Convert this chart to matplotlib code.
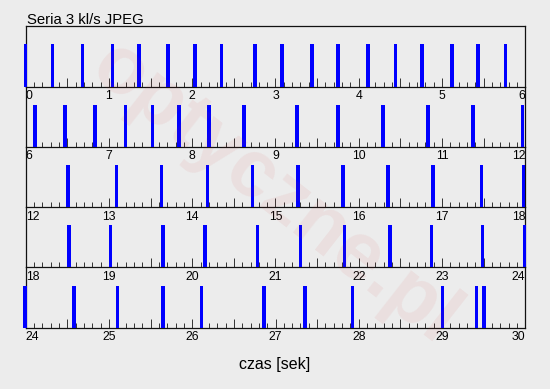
#!/usr/bin/env python3
"""Frame timing strip chart: burst of 3 fps JPEG, 6 seconds per row."""

import matplotlib
matplotlib.use("Agg")
import matplotlib.pyplot as plt
from matplotlib.ticker import MultipleLocator

# ---------------------------------------------------------------------------
# Data — frame timestamps in seconds
# ---------------------------------------------------------------------------

TITLE = "Seria 3 kl/s JPEG"
XLABEL = "czas [sek]"

ROW_STARTS = [0, 6, 12, 18, 24]
ROW_SPAN = 6

FRAME_TIMES = [
    0.0, 0.325, 0.685, 1.045, 1.36, 1.71, 2.035, 2.355, 2.755, 3.077,
    3.437, 3.75, 4.11, 4.44, 4.76, 5.12, 5.43, 5.76,
    6.112, 6.472, 6.833, 7.2, 7.526, 7.84, 8.2, 8.62, 9.257, 9.75,
    10.29, 10.83, 11.37, 11.964,
    12.508, 13.09, 13.63, 14.18, 14.72, 15.27, 15.81, 16.35, 16.89,
    17.47, 17.975,
    18.52, 19.02, 19.65, 20.155, 20.78, 21.3, 21.83, 22.375, 22.87,
    23.49, 23.99,
    24.58, 25.105, 25.65, 26.11, 26.86, 27.354, 27.927, 29.008, 29.416,
    29.504,
]

# ---------------------------------------------------------------------------
# Style
# ---------------------------------------------------------------------------

BG = "#ececec"
BAR_COLOR = "#0000ff"
BAR_WIDTH = 0.04      # seconds
EDGE = 0.02           # bars this close past a row edge still show in that row

W, H = 550, 389
LEFT, RIGHT = 25.7, 525.3          # px
TOP, BOTTOM = 26.3, 327.7          # px from top

plt.rcParams["font.family"] = ["Liberation Sans", "DejaVu Sans"]


def _row_axes(fig, i, n):
    row_h = (BOTTOM - TOP) / n
    y0 = H - (TOP + (i + 1) * row_h)
    ax = fig.add_axes([LEFT / W, y0 / H, (RIGHT - LEFT) / W, row_h / H])
    ax.set_facecolor("none")
    return ax


def _plot():
    fig = plt.figure(figsize=(W / 100, H / 100), dpi=100, facecolor=BG)

    # faint watermark behind the strips
    fig.text(0.5, 0.5, "optyczne.pl", fontsize=58, fontweight="bold",
             color="#d03030", alpha=0.07, rotation=-38,
             ha="center", va="center", zorder=0)

    n = len(ROW_STARTS)
    for i, lo in enumerate(ROW_STARTS):
        hi = lo + ROW_SPAN
        ax = _row_axes(fig, i, n)

        times = [t for t in FRAME_TIMES if lo - EDGE <= t <= hi + EDGE]
        ax.bar(times, [1] * len(times), width=BAR_WIDTH, color=BAR_COLOR,
               linewidth=0, clip_on=False, zorder=3)

        ax.set_xlim(lo, hi)
        ax.set_ylim(0, 1.43)
        ax.set_yticks([])

        for side in ("left", "right", "bottom", "top"):
            ax.spines[side].set_linewidth(0.9)
            ax.spines[side].set_color("#111111")
        ax.spines["top"].set_visible(i == 0)

        majors = [lo + k * 0.5 for k in range(2 * ROW_SPAN + 1)]
        labels = [str(int(m)) if m == int(m) else "" for m in majors]
        ax.set_xticks(majors, labels)
        ax.xaxis.set_minor_locator(MultipleLocator(0.1))
        ax.tick_params(axis="x", which="major", direction="in", length=6.8,
                       width=0.7, color="#333333", pad=2.5, labelsize=8.8)
        ax.tick_params(axis="x", which="minor", direction="in", length=3.4,
                       width=0.7, color="#333333")

        tl = ax.get_xticklabels()
        tl[0].set_ha("left")
        tl[-1].set_ha("right")

    fig.text(27.3 / W, 1 - 24 / H, TITLE, fontsize=10.7, va="baseline",
             ha="left")
    fig.text(275 / W, 1 - 369.3 / H, XLABEL, fontsize=11.5, va="baseline",
             ha="center")

    fig.savefig("out.png", dpi=100, facecolor=BG)


if __name__ == "__main__":
    _plot()
